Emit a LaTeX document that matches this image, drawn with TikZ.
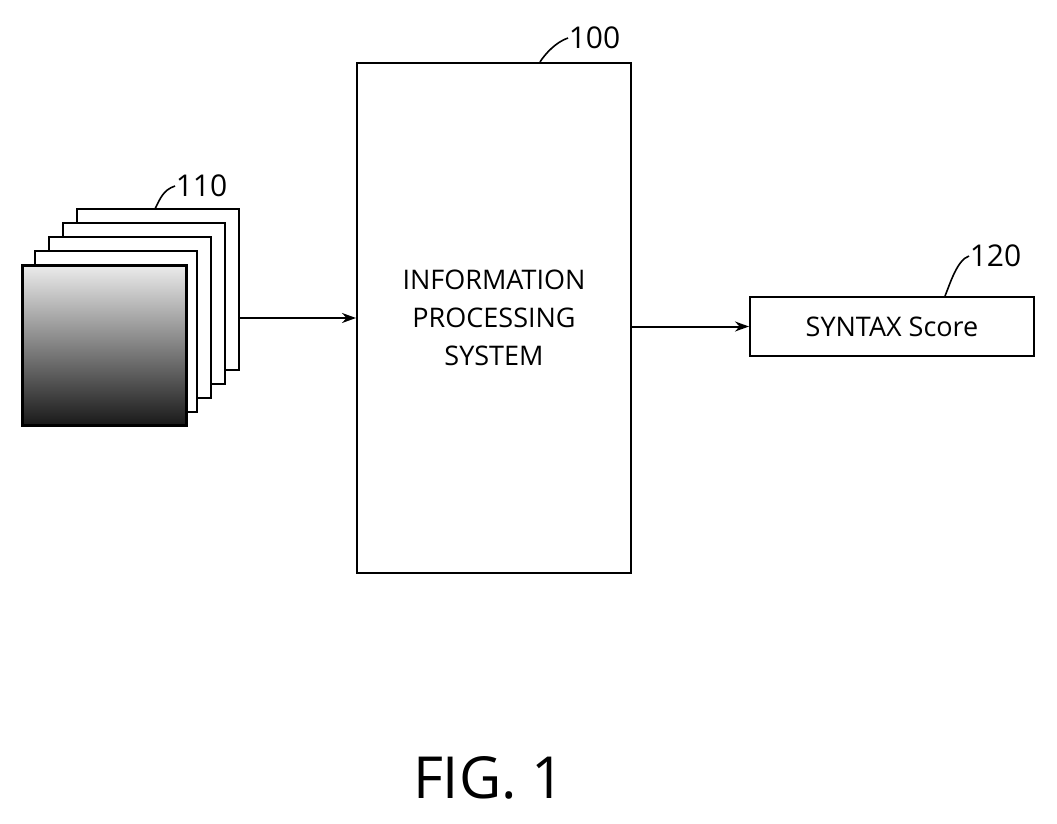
\documentclass[tikz,border=0pt]{standalone}
\usepackage{fontspec}
\setmainfont{Open Sans}
\usetikzlibrary{arrows.meta}
\tikzset{
  block/.style={draw, line width=2pt, minimum width=#1, inner sep=0pt},
  frame/.style={draw, line width=2pt, fill=white},
  lead/.style={line width=1.6pt},
  ref/.style={font=\fontsize{30}{30}\selectfont, anchor=west, inner sep=0pt},
}
\begin{document}
\begin{tikzpicture}[x=1pt,y=-1pt,>={Stealth[length=14pt,width=10pt]}]
  \useasboundingbox (0,0) rectangle (1057,824);

  % stack of images
  \foreach \d in {0,1,2,3} {
    \draw[frame] (77-14*\d,209+14*\d) rectangle (239-14*\d,370+14*\d);
  }
  \shade[shading angle=135, top color=gray!15, bottom color=black!90]
    (22,265) rectangle (186,425);
  \draw[line width=3pt] (22,265) rectangle (186,425);
  \coordinate (stack) at (239,318);

  % main block
  \node[block=274pt, minimum height=510pt, anchor=north west,
        align=center, font=\fontsize{27}{38}\selectfont]
    (ips) at (356,62) {INFORMATION\\PROCESSING\\SYSTEM};
  \node[block=284pt, minimum height=59pt, anchor=north west,
        font=\fontsize{27}{27}\selectfont]
    (score) at (749,296) {SYNTAX Score};

  \draw[->, line width=2pt] (stack) -- (stack -| ips.west);
  \draw[->, line width=2pt] (ips.east |- score) -- (score.west);

  % reference numerals
  \draw[lead] (ips.north west) ++(184,0) .. controls +(5,-8) and +(-12,4) .. ++(28,-24) node[ref] (n100) {100};
  \draw[lead] (score.north west) ++(196,0) .. controls +(5,-12) and +(-12,4) .. ++(24,-40) node[ref] (n120) {120};
  \draw[lead] (155,209) .. controls +(5,-10) and +(-12,4) .. (175,186) node[ref] (n110) {110};

  \node[font=\fontsize{58}{58}\selectfont] (fig) at (489,778) {FIG. 1};
\end{tikzpicture}
\end{document}
